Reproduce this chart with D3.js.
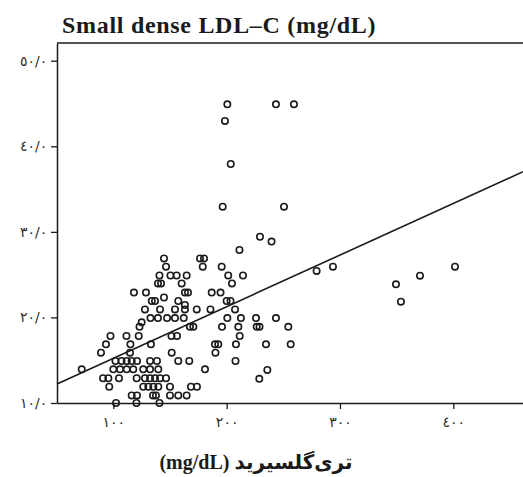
<!DOCTYPE html>
<html>
<head>
<meta charset="utf-8">
<script src="https://cdn.jsdelivr.net/npm/d3@7"></script>
<style>
  html, body { margin: 0; padding: 0; background: #fff; }
  svg { display: block; }
</style>
</head>
<body>
<svg id="chart" width="523" height="477"></svg>
<script>
// ---- data ----
const chartTitle = "Small dense LDL\u2013C (mg/dL)";
const xTitle = "تری‌گلسیرید (mg/dL)";

// triglyceride (mg/dL)
const triglyceride = [
  200.6, 243.5, 259.4,
  198.5,
  203.6,
  196.5, 250.6,
  229.4, 239.6, 211.3,
  144.7, 176.5, 180,
  146.5, 178.9, 195.6, 279.4, 293.8, 401.5, 370.6,
  140.7, 150.4, 155.9, 164.7, 201.4, 214.4,
  139.4, 142.1, 160.3, 204.7, 349.4,
  118.2, 128.8, 163.2, 165.9, 186.8, 194.6,
  144.7,
  133.9, 136.8, 157.3, 200, 203.4, 353.8,
  163.2,
  127.9, 141.2, 154.4, 163.2, 173.6, 185.7, 207.4,
  132.8, 139.4, 147.4, 154.4, 162.1, 200.6, 212.6, 225.9, 243.5,
  125,
  123.1, 167.6, 170.6, 195.9, 210.3, 226.5, 229, 254.4,
  97.5, 111.6, 122.4, 151.3, 156.2, 211.5,
  93.5, 115.1, 133.2, 189.7, 192.6, 208.2, 234.7, 256.5,
  89.1, 114.7, 151.5, 190.1,
  101.9, 107.2, 111.8, 116.2, 120.9, 132.4, 138.5, 157.3, 167, 207.8,
  72.1, 100, 105.9, 111.8, 117.6, 126.4, 132.4, 139.7, 180.9, 235.9,
  90.9, 95.6, 105, 120.6, 127.9, 132.4, 136.8, 141.2, 146.5, 228.8,
  96.4, 126.4, 130.9, 135.3, 139.7, 150, 168.5, 173.8,
  116.2, 120.9, 135, 137.6, 150, 157.3, 164.7,
  102.4, 120.4, 140.7
];

// small dense LDL-C (mg/dL)
const sdLDL = [
  44.9, 44.9, 44.9,
  42.96,
  37.93,
  32.94, 32.94,
  29.43, 28.87, 27.88,
  26.89, 26.89, 26.89,
  25.93, 25.93, 25.93, 25.43, 25.93, 25.93, 24.88,
  24.9, 24.9, 24.9, 24.9, 24.9, 24.9,
  23.97, 23.97, 23.97, 23.97, 23.87,
  22.91, 22.91, 22.91, 22.91, 22.91, 22.91,
  22.33,
  21.92, 21.92, 21.92, 21.92, 21.92, 21.84,
  21.45,
  20.93, 20.93, 20.93, 20.93, 20.93, 20.93, 20.93,
  19.93, 19.93, 19.93, 19.93, 19.93, 19.93, 19.93, 19.93, 19.93,
  19.43,
  18.9, 18.9, 18.9, 18.9, 18.9, 18.9, 18.9, 18.9,
  17.83, 17.83, 17.83, 17.83, 17.83, 17.83,
  16.86, 16.86, 16.86, 16.86, 16.86, 16.86, 16.86, 16.86,
  15.88, 15.88, 15.88, 15.88,
  14.91, 14.91, 14.91, 14.91, 14.91, 14.91, 14.91, 14.91, 14.91, 14.91,
  13.94, 13.94, 13.94, 13.94, 13.94, 13.94, 13.94, 13.94, 13.94, 13.86,
  12.89, 12.89, 12.89, 12.89, 12.89, 12.89, 12.89, 12.89, 12.89, 12.83,
  11.9, 11.9, 11.9, 11.9, 11.9, 11.9, 11.9, 11.9,
  10.88, 10.88, 10.88, 10.88, 10.88, 10.88, 10.88,
  10, 10, 10
];

// fitted line: sdLDL = intercept + slope * TG
const fitIntercept = 9.185;
const fitSlope = 0.06034;

const xTicks = [100, 200, 300, 400];
const xTickLabels = ["١٠٠", "٢٠٠", "٣٠٠", "٤٠٠"];
const yTicks = [10, 20, 30, 40, 50];
const yTickLabels = ["١٠/٠", "٢٠/٠", "٣٠/٠", "٤٠/٠", "٥٠/٠"];

// ---- drawing ----
const svg = d3.select("#chart");
const L = 57, R = 523, T = 43, B = 403;

const x = d3.scaleLinear().domain([50.3, 461.5]).range([L, R]);
const y = d3.scaleLinear().domain([10, 52.07]).range([B, T]);

const ink = "#1a1a1a";

// title
svg.append("text")
  .attr("x", 62).attr("y", 33)
  .attr("font-family", "'Liberation Serif', 'DejaVu Serif', serif")
  .attr("font-weight", "bold")
  .attr("font-size", 24)
  .attr("letter-spacing", 0.7)
  .attr("fill", ink)
  .text(chartTitle);

// top border
svg.append("line")
  .attr("x1", L).attr("x2", R).attr("y1", T).attr("y2", T)
  .attr("stroke", ink).attr("stroke-width", 1.5);

// points
const pts = triglyceride.map((v, i) => [v, sdLDL[i]]);
svg.append("g").selectAll("circle").data(pts).join("circle")
  .attr("cx", d => x(d[0]))
  .attr("cy", d => y(d[1]))
  .attr("r", 3.2)
  .attr("fill", "none")
  .attr("stroke", ink)
  .attr("stroke-width", 1.6);

// fit line
svg.append("line")
  .attr("x1", x(50.3)).attr("y1", y(fitIntercept + fitSlope * 50.3))
  .attr("x2", x(461.5)).attr("y2", y(fitIntercept + fitSlope * 461.5))
  .attr("stroke", ink).attr("stroke-width", 1.6);

// axes
const yAxis = d3.axisLeft(y).tickValues(yTicks)
  .tickFormat((d, i) => yTickLabels[i]).tickSize(6).tickSizeOuter(0);
const gy = svg.append("g").attr("transform", `translate(${L},0)`).call(yAxis);

const xAxis = d3.axisBottom(x).tickValues(xTicks)
  .tickFormat((d, i) => xTickLabels[i]).tickSize(6).tickSizeOuter(0);
const gx = svg.append("g").attr("transform", `translate(0,${B})`).call(xAxis);

[gx, gy].forEach(g => {
  g.select(".domain").attr("stroke", ink).attr("stroke-width", 1.5);
  g.selectAll(".tick line").attr("stroke", ink).attr("stroke-width", 1.3);
  g.selectAll(".tick text")
    .attr("font-family", "'DejaVu Sans', sans-serif")
    .attr("font-size", 14)
    .attr("letter-spacing", 2.5)
    .attr("fill", "#2a2a2a");
});
gx.selectAll(".tick text").attr("dy", "1.05em");
gy.selectAll(".tick text").attr("dx", "-0.05em");

// x title
svg.append("text")
  .attr("x", 256).attr("y", 469)
  .attr("text-anchor", "middle")
  .attr("direction", "rtl")
  .attr("font-family", "'Liberation Serif', 'DejaVu Sans', serif")
  .attr("font-weight", "bold")
  .attr("font-size", 20)
  .attr("fill", ink)
  .text(xTitle);
</script>
</body>
</html>
